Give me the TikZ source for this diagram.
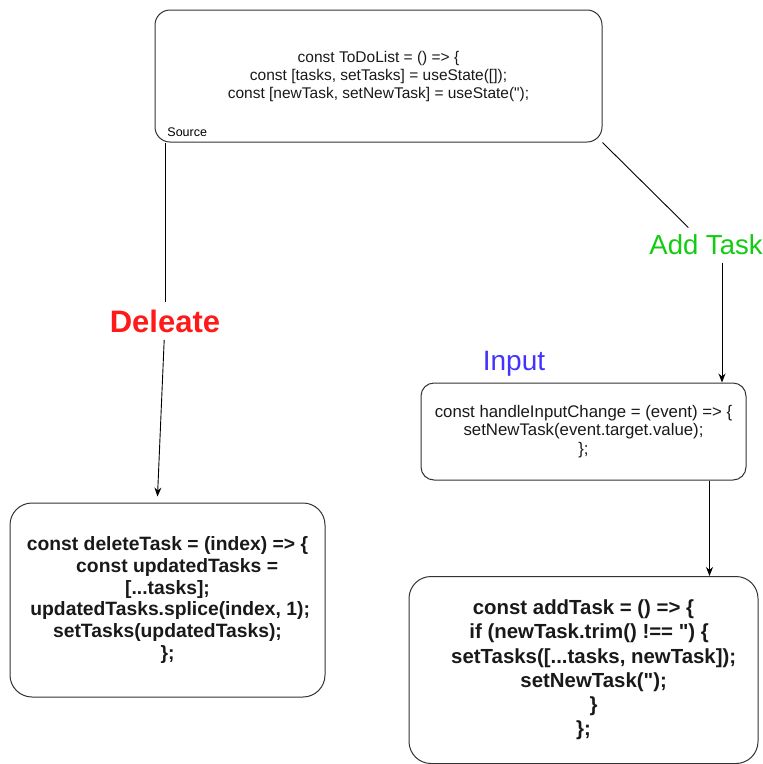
\documentclass[tikz,border=0pt]{standalone}
\usepackage{fontspec}
\setmainfont{Liberation Sans}
\usetikzlibrary{arrows.meta}

\definecolor{delred}{HTML}{FF1A1A}
\definecolor{addgreen}{HTML}{11CC11}
\definecolor{inblue}{HTML}{4433FF}

\tikzstyle{block} = [draw=black!80, rectangle, line width=1pt, align=center, text=black!90]
\tikzstyle{lbl} = [inner sep=7pt]

\begin{document}
\begin{tikzpicture}[x=1pt, y=-1pt, >={Stealth[length=9pt,width=7pt]}, line width=0.9pt]
  \useasboundingbox (0,0) rectangle (763,764);

  \node [block, rounded corners=15pt, minimum width=447pt, minimum height=132pt,
         font=\fontsize{15.5}{18}\selectfont] (src) at (378.5,76)
        {const ToDoList = () => \{\\ const [tasks, setTasks] = useState([]);\\ const [newTask, setNewTask] = useState(\textquotedbl);};
  \node [anchor=west, inner sep=0pt, font=\fontsize{12.5}{14}\selectfont] (srclbl) at (167,132) {Source};

  \node [lbl, text=delred, font=\bfseries\fontsize{31}{36}\selectfont] (dellbl) at (165,321) {Deleate};
  \node [lbl, text=addgreen, font=\fontsize{27.5}{32}\selectfont] (addlbl) at (706,245) {Add Task};
  \node [lbl, text=inblue, font=\fontsize{28}{32}\selectfont] (inlbl) at (514,364) {Input};

  \node [block, rounded corners=22pt, minimum width=315pt, minimum height=194pt,
         font=\bfseries\fontsize{19.3}{21.8}\selectfont] (del) at (167.5,600)
        {const deleteTask = (index) => \{\\ \quad const updatedTasks =\\ {[...tasks];}\\ \ updatedTasks.splice(index, 1);\\ setTasks(updatedTasks);\\ \};};

  \node [block, rounded corners=13pt, minimum width=325pt, minimum height=97pt,
         font=\fontsize{16.8}{18.3}\selectfont] (inp) at (583.5,431.5)
        {const handleInputChange = (event) => \{\\ setNewTask(event.target.value);\\ \};};

  \node [block, rounded corners=22pt, minimum width=349pt, minimum height=187pt,
         font=\bfseries\fontsize{20.4}{24.2}\selectfont] (add) at (583.5,670)
        {const addTask = () => \{\\ \ \ if (newTask.trim() !== \textquotedbl) \{\\ \quad setTasks([...tasks, newTask]);\\ \quad setNewTask(\textquotedbl);\\ \quad \}\\ \};};

  \draw (src.south -| dellbl) -- (dellbl);
  \draw [->] (dellbl) -- ([xshift=-10pt, yshift=6pt]del.north);
  \draw (src.south east) -- (addlbl);
  \draw [->] ([xshift=16pt]addlbl.south) -- ([xshift=16pt]addlbl.south |- inp.north);
  \draw [->] ([xshift=126pt]inp.south) -- ([xshift=126pt]add.north);
\end{tikzpicture}
\end{document}
